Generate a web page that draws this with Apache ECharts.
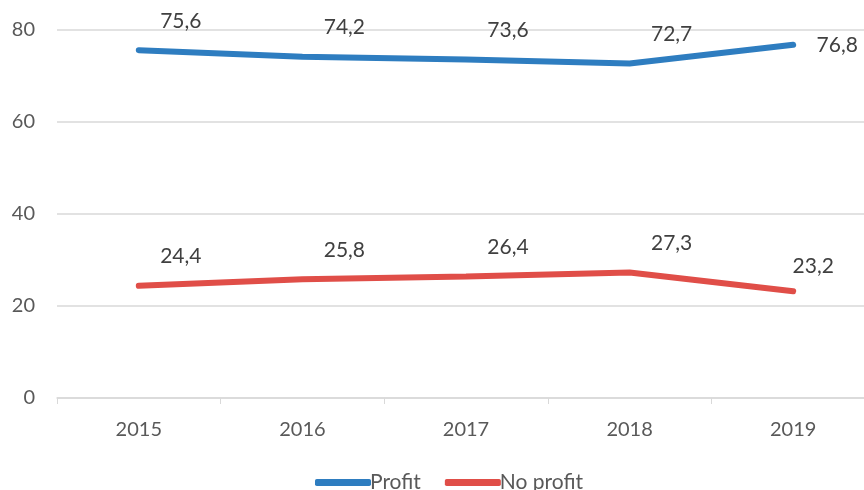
<!DOCTYPE html>
<html>
<head>
<meta charset="utf-8">
<script src="https://cdn.jsdelivr.net/npm/echarts@6/dist/echarts.min.js"></script>
<style>
html, body { margin: 0; padding: 0; background: #fff; overflow: hidden; }
#chart { width: 875px; height: 490px; }
</style>
</head>
<body>
<div id="chart"></div>
<script>
var years = ['2015', '2016', '2017', '2018', '2019'];
var profit = [75.6, 74.2, 73.6, 72.7, 76.8];
var noProfit = [24.4, 25.8, 26.4, 27.3, 23.2];

var font = 'Lato, "Open Sans", sans-serif';

function labelData(values, lastOffset) {
    return values.map(function(v, i){
        var off = i === values.length - 1 ? lastOffset : [42, -14];
        return { value: v, label: { offset: off } };
    });
}

function fmt(p) {
    return String(p.value).replace('.', ',');
}

var myChart = echarts.init(document.getElementById('chart'));
var option = {
    animation: false,
    grid: { left: 57, right: 0, top: 30, bottom: 92 },
    xAxis: {
        type: 'category',
        data: years,
        boundaryGap: true,
        axisLine: { lineStyle: { color: '#d9d9d9', width: 1.5 } },
        axisTick: { show: true, length: 6, lineStyle: { color: '#d9d9d9' } },
        axisLabel: { color: '#595959', fontSize: 20, fontFamily: font, margin: 22 }
    },
    yAxis: {
        type: 'value',
        min: 0,
        max: 80,
        interval: 20,
        axisLine: { show: false },
        axisTick: { show: false },
        splitLine: { lineStyle: { color: '#d9d9d9', width: 1.5 } },
        axisLabel: { color: '#595959', fontSize: 20, fontFamily: font, margin: 22 }
    },
    legend: {
        bottom: -8,
        left: 310,
        itemWidth: 56,
        itemHeight: 7,
        itemGap: 24,
        icon: 'roundRect',
        textStyle: { color: '#595959', fontSize: 21, fontFamily: font, padding: [0, 0, 0, -6] },
        data: ['Profit', 'No profit']
    },
    series: [
        {
            name: 'Profit',
            type: 'line',
            data: labelData(profit, [44, 16]),
            symbol: 'circle',
            symbolSize: 0,
            showSymbol: true,
            lineStyle: { color: '#2e7dc0', width: 6, cap: 'round' },
            itemStyle: { color: '#2e7dc0' },
            label: {
                show: true,
                position: 'top',
                color: '#404040',
                fontSize: 21,
                fontFamily: font,
                formatter: fmt
            }
        },
        {
            name: 'No profit',
            type: 'line',
            data: labelData(noProfit, [20, -10]),
            symbol: 'circle',
            symbolSize: 0,
            showSymbol: true,
            lineStyle: { color: '#e04e48', width: 6, cap: 'round' },
            itemStyle: { color: '#e04e48' },
            label: {
                show: true,
                position: 'top',
                color: '#404040',
                fontSize: 21,
                fontFamily: font,
                formatter: fmt
            }
        }
    ]
};
myChart.setOption(option);
</script>
</body>
</html>
